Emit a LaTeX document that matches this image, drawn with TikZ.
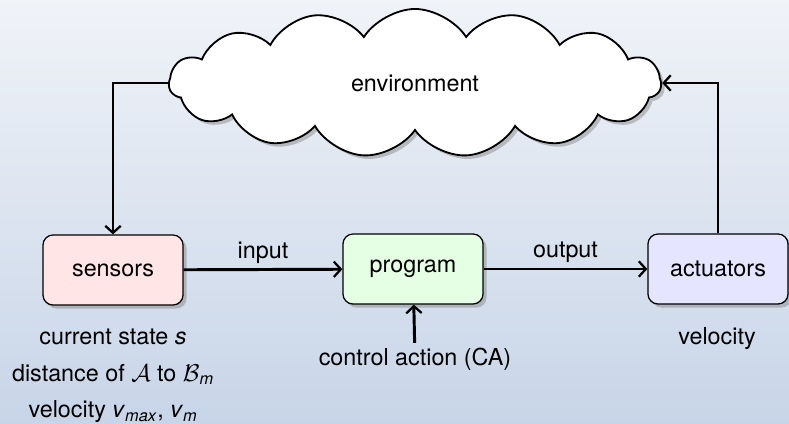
\documentclass[tikz,border=0pt]{standalone}
\usepackage{fontspec}
\setmainfont{TeX Gyre Heros}
\usepackage{tikz}
\usetikzlibrary{shapes.symbols,shadows,positioning,calc,arrows.meta}

\definecolor{bgtop}{RGB}{240,243,248}
\definecolor{bgbottom}{RGB}{200,213,232}

\tikzset{
	block/.style={draw, rounded corners=0.25cm, minimum width=3.5cm, minimum height=1.75cm,
		line width=0.9pt, drop shadow={shadow xshift=2.5pt, shadow yshift=-2.5pt, opacity=0.45}},
	flow/.style={-{Straight Barb[length=5pt,width=11pt,line width=1.6pt]}, line width=2.1pt},
}

\begin{document}
\begin{tikzpicture}[x=0.025cm,y=-0.025cm,font=\fontsize{16.6}{19.5}\selectfont]
	% background
	\shade[top color=bgtop,bottom color=bgbottom] (0,0) rectangle (789,423);
	\useasboundingbox (0,0) rectangle (789,423);

	\node[cloud, draw, fill=white, line width=1.3pt, cloud puffs=15, cloud puff arc=115,
		aspect=3.3, minimum width=12.3cm, minimum height=3.7cm,
		drop shadow={shadow xshift=2.5pt, shadow yshift=-2.5pt, opacity=0.45}] (env) at (415,83) {environment};

	\node[block, fill=red!10] (sensors) at (113,270) {sensors};
	\node[block, fill=green!10] (program) at (413,269) {program};
	\node[block, fill=blue!10] (actuators) at (718,269) {actuators};

	\node[align=center, font=\fontsize{16.6}{26}\selectfont] (sensinfo) at (113,376)
		{current state \textit{s}\\ distance of $\mathcal{A}$ to $\mathcal{B}$\textsubscript{\textit{m}}\\
		 velocity \textit{v}\textsubscript{\textit{max}}, \textit{v}\textsubscript{\textit{m}}};
	\node (ca) at (415,359) {control action (CA)};
	\node (actinfo) at (717,339) {velocity};

	\draw[flow] (sensors) -- node[above] {input} (program);
	\draw[flow] (program) -- node[above] {output} (actuators);
	\draw[flow] (ca) -- (program);
	\draw[flow] (env.west) -| (sensors.north);
	\draw[flow] (actuators.north) |- (env.east);
\end{tikzpicture}
\end{document}
